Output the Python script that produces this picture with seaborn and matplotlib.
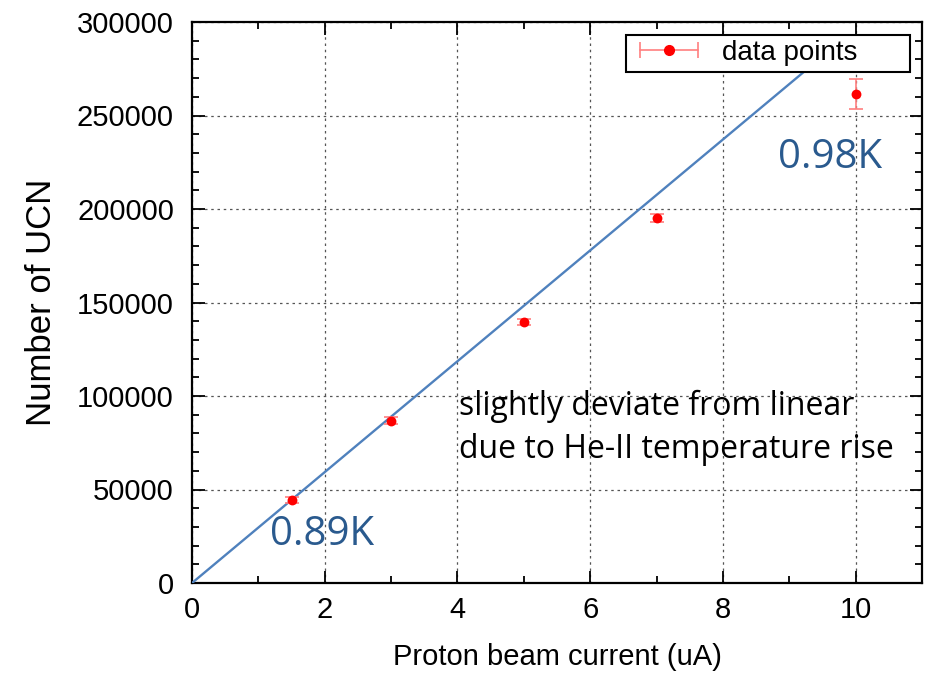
import matplotlib
matplotlib.use("Agg")
import matplotlib.pyplot as plt
import seaborn as sns
import numpy as np
import pandas as pd
from matplotlib.lines import Line2D
from matplotlib.legend_handler import HandlerLine2D, HandlerTuple
from matplotlib.ticker import MultipleLocator

# data
current_uA = [1.5, 3.0, 5.0, 7.0, 10.0]
ucn_counts = [44400, 86800, 139600, 195300, 261500]
ucn_errors = [1800, 1800, 1800, 2000, 7800]
fit_x = [0.0, 9.58]
fit_y = [0.0, 284000.0]
x_ticks = [0, 2, 4, 6, 8, 10]
y_ticks = [0, 50000, 100000, 150000, 200000, 250000, 300000]

sns.set_theme(style="ticks")
plt.rcParams['font.family'] = ['Liberation Sans', 'DejaVu Sans']

fig = plt.figure(figsize=(9.3, 6.93), dpi=100)
ax = fig.add_axes([192/930, 1-583/693, (922-192)/930, (583-22)/693])

df = pd.DataFrame({"x": current_uA, "y": ucn_counts, "err": ucn_errors})
fit_df = pd.DataFrame({"x": fit_x, "y": fit_y})

sns.lineplot(data=fit_df, x="x", y="y", ax=ax, color="#4F81BD", linewidth=1.7, zorder=3)
ax.errorbar(df["x"], df["y"], yerr=df["err"], fmt="none", ecolor="#FF7F7F",
            elinewidth=1.2, capsize=5, capthick=1.2, zorder=4)
sns.scatterplot(data=df, x="x", y="y", ax=ax, color="#FF0000", s=50,
                edgecolor="#FF0000", linewidth=0, zorder=5)

ax.set_xlim(0, 11)
ax.set_ylim(0, 300000)
ax.set_xticks(x_ticks)
ax.set_yticks(y_ticks)
ax.xaxis.set_minor_locator(MultipleLocator(1))
ax.yaxis.set_minor_locator(MultipleLocator(10000))
ax.tick_params(which="both", direction="in", top=True, right=True, colors="black",
               labelsize=21, width=1.3)
ax.tick_params(which="major", length=9)
ax.tick_params(axis="x", which="major", pad=9)
ax.tick_params(axis="y", which="major", pad=13)
ax.tick_params(which="minor", length=5)
ax.grid(True, which="major", linestyle=(0, (2, 3)), color="#555555", linewidth=0.9)
for s in ax.spines.values():
    s.set_color("black")
    s.set_linewidth(1.6)

ax.set_xlabel("Proton beam current (uA)", fontsize=21, labelpad=14, color="black")
ax.set_ylabel("Number of UCN", fontsize=25, labelpad=14, color="black")

# legend with horizontal errorbar key
bar = Line2D([], [], color="#FF7F7F", linewidth=1.2, marker="|", markersize=12,
             markeredgewidth=1.2)
dot = Line2D([], [], color="#FF0000", linestyle="none", marker="o", markersize=7)
leg = ax.legend([(bar, dot)], ["data points      "], loc="upper right",
                handler_map={bar: HandlerLine2D(numpoints=2), dot: HandlerLine2D(numpoints=1),
                             tuple: HandlerTuple(ndivide=1)},
                fontsize=20, frameon=True, fancybox=False, handlelength=2.7,
                borderaxespad=0.45, borderpad=0.2, handletextpad=0.55,
                labelcolor="black")
leg.get_frame().set_edgecolor("black")
leg.get_frame().set_linewidth(1.5)
leg.get_frame().set_alpha(1)

blue = "#2A5A8E"
ax.text(1.175, 20300, "0.89K", fontsize=29, color=blue, family="Open Sans", va="baseline")
ax.text(8.83, 221900, "0.98K", fontsize=29, color=blue, family="Open Sans", va="baseline")
ax.text(4.02, 89800, "slightly deviate from linear",
        fontsize=23, color="black", family="Open Sans", va="baseline")
ax.text(4.02, 66800, "due to He-II temperature rise",
        fontsize=23, color="black", family="Open Sans", va="baseline")

fig.savefig("out.png", dpi=100)
